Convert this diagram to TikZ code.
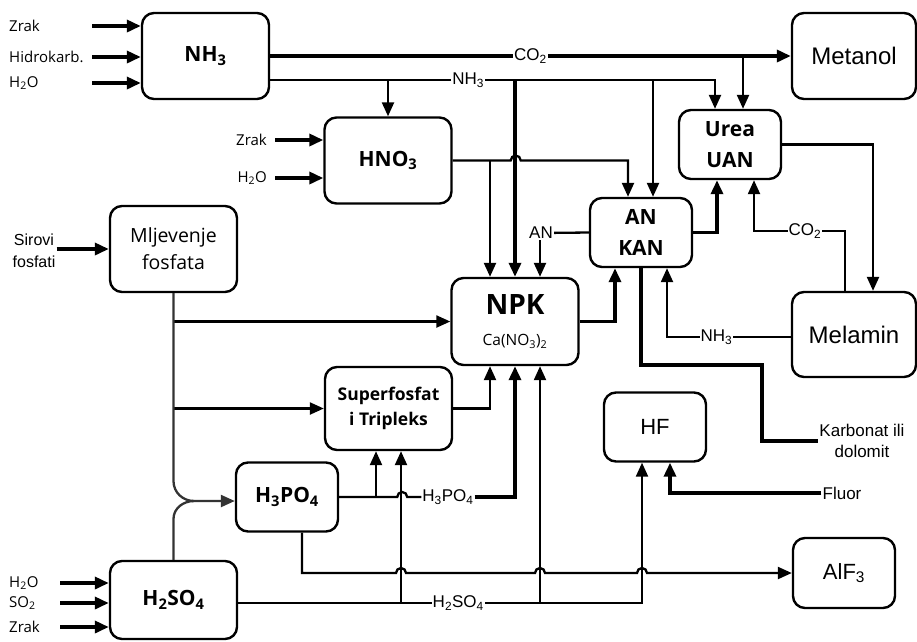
\documentclass[tikz,border=0pt]{standalone}
\usepackage{fontspec}
\setmainfont{Open Sans}
\newfontfamily\arialfont{Liberation Sans}
\usepackage{tikz}
\usetikzlibrary{arrows.meta, calc}

\begin{document}
\begin{tikzpicture}[x=1pt, y=1pt,
  box/.style={draw, line width=2.4pt, rounded corners=12pt, minimum width=127pt, minimum height=86pt, align=center, inner sep=2pt},
  sbox/.style={box, minimum width=102pt, minimum height=69pt},
  boldtxt/.style={font=\bfseries\fontsize{21}{31}\selectfont},
  plaintxt/.style={font=\arialfont\fontsize{22}{26}\selectfont},
  flow/.style={line width=2.3pt, -{Triangle[length=14pt, width=12pt]}},
  bigflow/.style={flow, line width=3.4pt},
  plain/.style={line width=2.3pt},
  mixflow/.style={flow, draw=black!80},
  lbl/.style={font=\arialfont\fontsize{17}{21}\selectfont, inner sep=1pt},
  inlbl/.style={font=\fontsize{15}{16}\selectfont, inner sep=0pt}
]
  \useasboundingbox (0,0) rectangle (917,-641);

  % Process boxes
  \node[box, boldtxt] (nh3) at (205.5,-56) {NH\textsubscript{3}};
  \node[box, boldtxt] (hno3) at (388,-160.5) {HNO\textsubscript{3}};
  \node[box, font=\fontsize{19.5}{27}\selectfont] (mlj) at (173.5,-249) {Mljevenje\\fosfata};
  \node[box, minimum height=87pt, font=\fontsize{15.5}{31}\selectfont] (npk) at (515,-321.5) {{\bfseries\fontsize{28}{31}\selectfont NPK}\\Ca(NO\textsubscript{3})\textsubscript{2}};
  \node[box, minimum height=83pt, font=\bfseries\fontsize{17.5}{25}\selectfont] (sup) at (388.5,-408.5) {Superfosfat\\i Tripleks};
  \node[sbox, boldtxt] (h3po4) at (287,-497) {H\textsubscript{3}PO\textsubscript{4}};
  \node[box, minimum height=78pt, boldtxt] (h2so4) at (173.5,-600) {H\textsubscript{2}SO\textsubscript{4}};
  \node[box, minimum width=124pt, plaintxt, font=\arialfont\fontsize{24}{26}\selectfont] (metanol) at (854,-56) {Metanol};
  \node[sbox, boldtxt] (urea) at (730,-144.5) {Urea\\UAN};
  \node[sbox, boldtxt] (ankan) at (641,-232.5) {AN\\KAN};
  \node[box, minimum width=124pt, minimum height=85pt, plaintxt, font=\arialfont\fontsize{24}{26}\selectfont] (melamin) at (854,-334.5) {Melamin};
  \node[sbox, plaintxt] (hf) at (655,-427) {HF};
  \node[sbox, minimum height=70pt, plaintxt] (alf3) at (844,-573) {AlF\textsubscript{3}};

  % Raw material inputs
  \foreach \y/\txt in {26/Zrak, 57/Hidrokarb., 83/{H\textsubscript{2}O}} {
    \node[inlbl, anchor=west] (a\y) at (9,-\y) {\txt};
    \coordinate (s\y) at (92,-\y);
    \draw[bigflow] (s\y) -- (s\y -| nh3.west);
  }
  \foreach \y/\txt in {140/Zrak, 178/{H\textsubscript{2}O}} {
    \node[inlbl, anchor=east] (b\y) at (267,-\y) {\txt};
    \coordinate (t\y) at (275,-\y);
    \draw[bigflow] (t\y) -- (t\y -| hno3.west);
  }
  \foreach \y/\txt in {583/{H\textsubscript{2}O}, 603/{SO\textsubscript{2}}, 627/Zrak} {
    \node[inlbl, anchor=west] (c\y) at (9,-\y) {\txt};
    \coordinate (u\y) at (60,-\y);
    \draw[bigflow] (u\y) -- (u\y -| h2so4.west);
  }
  \node[lbl, align=center, font=\arialfont\fontsize{16}{22}\selectfont] (sir) at (34,-251) {Sirovi\\fosfati};
  \draw[bigflow] (sir.east |- mlj.west) -- (mlj.west);

  % CO2 and NH3 lines
  \draw[bigflow] (nh3.east) -- node[lbl, fill=white, pos=0.5] {CO\textsubscript{2}} (metanol.west);
  \coordinate (co2b) at (743,-56);
  \draw[flow] (co2b) -- (co2b |- urea.north);
  \coordinate (nhs) at ([yshift=-24pt]nh3.east);
  \coordinate (nhb) at (715,-80);
  \draw[flow] (nhs) -- node[lbl, fill=white, pos=0.445] {NH\textsubscript{3}} (nhb) -- (nhb |- urea.north);
  \draw[flow] (hno3.north |- nhs) -- (hno3.north);
  \draw[bigflow] (npk.north |- nhs) -- (npk.north);
  \coordinate (ank2) at ([xshift=12pt]ankan.north);
  \draw[flow] (ank2 |- nhs) -- (ank2);

  % HNO3 output
  \coordinate (ank1) at ([xshift=-13pt]ankan.north);
  \draw[flow] (hno3.east) -- ++(58,0) arc[start angle=180, end angle=0, radius=5] -| (ank1);
  \coordinate (npk1) at ([xshift=-25pt]npk.north);
  \draw[flow] (npk1 |- hno3.east) -- (npk1);

  % AN, NPK, Urea loop
  \node[lbl] (anl) at (541,-233) {AN};
  \draw[plain] (anl) -- (ankan.west);
  \coordinate (npk3) at ([xshift=25pt]npk.north);
  \draw[flow] (anl.south -| npk3) -- (npk3);
  \coordinate (ank3) at ([xshift=-26pt]ankan.south);
  \draw[bigflow] (npk.east) -| (ank3);
  \coordinate (ur3) at ([xshift=-13pt]urea.south);
  \draw[bigflow] (ankan.east) -| (ur3);
  \coordinate (mel1) at ([xshift=19pt]melamin.north);
  \draw[flow] (urea.east) -| (mel1);
  \coordinate (mel2) at ([xshift=-9pt]melamin.north);
  \coordinate (ur4) at ([xshift=24pt]urea.south);
  \coordinate (co2m) at (754,-231);
  \draw[flow] (mel2) |- node[lbl, fill=white, pos=0.72] {CO\textsubscript{2}} (co2m) -- (ur4);
  \coordinate (ank4) at ([xshift=26pt]ankan.south);
  \draw[flow] ([yshift=-2.5pt]melamin.west) -| node[lbl, fill=white, pos=0.3] {NH\textsubscript{3}} (ank4);

  % Karbonat and Fluor
  \node[lbl, align=center] (karb) at (862,-441) {Karbonat ili\\dolomit};
  \coordinate (kb) at (762,-365);
  \draw[plain, line width=3.4pt] (ankan.south) |- (kb) |- (karb.west);
  \node[lbl] (fluor) at (842,-493) {Fluor};
  \coordinate (hf2) at ([xshift=15pt]hf.south);
  \draw[bigflow] (fluor.west) -| (hf2);

  % H2SO4 line
  \coordinate (h2l) at ([yshift=-3pt]h2so4.east);
  \coordinate (hf1) at ([xshift=-13pt]hf.south);
  \draw[flow] (h2l) -- node[lbl, fill=white, pos=0.545] {H\textsubscript{2}SO\textsubscript{4}} (h2l -| hf1) -- (hf1);
  \coordinate (sup2) at ([xshift=12.5pt]sup.south);
  \draw[flow] (h2l -| sup2) -- (sup2);
  \coordinate (npk6) at ([xshift=25pt]npk.south);
  \draw[flow] (h2l -| npk6) -- (npk6);

  % H3PO4 lines
  \node[lbl, fill=white] (h3l) at (448,-497) {H\textsubscript{3}PO\textsubscript{4}};
  \draw[plain] (h3po4.east) -- ++(58,0) arc[start angle=180, end angle=0, radius=5] -- (h3l.west);
  \draw[bigflow] (h3l.east) -| (npk.south);
  \coordinate (sup1) at ([xshift=-12.5pt]sup.south);
  \draw[flow] (sup1 |- h3po4.east) -- (sup1);
  \coordinate (h3b) at ([xshift=15pt]h3po4.south);
  \draw[flow] (h3b) -- (h3b |- alf3.west) -- (396,-573) arc[start angle=180, end angle=0, radius=5]
    -- (535,-573) arc[start angle=180, end angle=0, radius=5]
    -- (637,-573) arc[start angle=180, end angle=0, radius=5] -- (alf3.west);

  % Superfosfat and ground phosphate
  \coordinate (npk4) at ([xshift=-25pt]npk.south);
  \draw[flow] (sup.east) -| (npk4);
  \draw[flow] (mlj.south |- npk.west) -- (npk.west);
  \draw[flow] (mlj.south |- sup.west) -- (sup.west);
  \coordinate (mix) at (194,-501);
  \coordinate (h3in) at ([yshift=-4pt]h3po4.west);
  \draw[plain, draw=black!80] (mlj.south) -- ++(0,-188) to[out=-90, in=180] (mix);
  \draw[mixflow] (h2so4.north) -- ++(0,41) to[out=90, in=180] (mix) -- (h3in);
\end{tikzpicture}
\end{document}
